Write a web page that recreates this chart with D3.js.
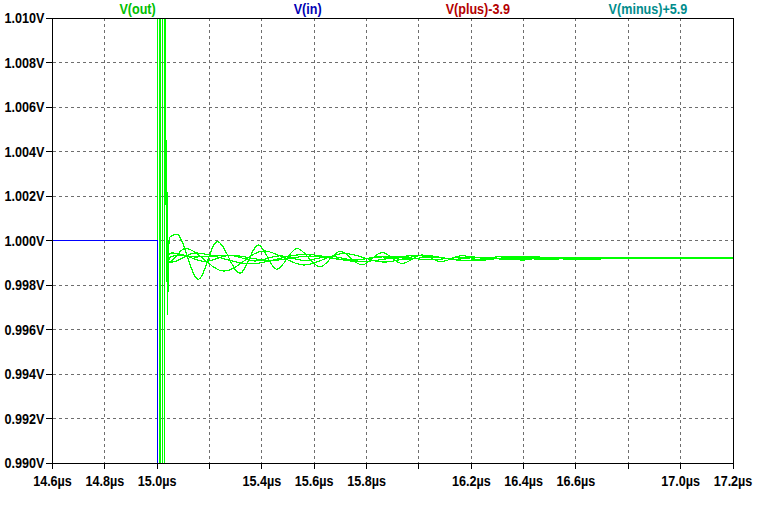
<!DOCTYPE html>
<html><head><meta charset="utf-8">
<script src="https://cdn.jsdelivr.net/npm/d3@7"></script>
<style>body{margin:0;background:#fff;overflow:hidden}</style>
</head><body><svg id="c" width="776" height="518"></svg>
<script>
// ---------- data ----------
const xTicks = [14.6,14.8,15.0,15.2,15.4,15.6,15.8,16.0,16.2,16.4,16.6,16.8,17.0,17.2];
const xTickLabels = ["14.6µs","14.8µs","15.0µs","","15.4µs","15.6µs","15.8µs","","16.2µs","16.4µs","16.6µs","","17.0µs","17.2µs"];
const yTicks = [0.990,0.992,0.994,0.996,0.998,1.000,1.002,1.004,1.006,1.008,1.010];
const yTickLabels = ["0.990V","0.992V","0.994V","0.996V","0.998V","1.000V","1.002V","1.004V","1.006V","1.008V","1.010V"];
const legendNames = ["V(out)","V(in)","V(plus)-3.9","V(minus)+5.9"];

// V(in): step at 15.0 µs (drops far below the visible range)
const vinT = [14.6, 15.0, 15.0, 17.2];
const vinV = [1.000, 1.000, 0.0, 0.0];

// V(out) initial overshoot (shared by all stepped runs)
const spikeT = [14.6, 15.000, 15.001, 15.001, 15.007, 15.007, 15.0145, 15.0145, 15.022, 15.022, 15.028, 15.028, 15.030, 15.0315, 15.0322, 15.0330, 15.0337, 15.0345, 15.0352, 15.0360];
const spikeV = [1.0000, 1.0000, 1.0000, 1.0125, 1.0125, 0.9875, 0.9875, 1.0125, 1.0125, 0.9875, 0.9875, 1.0125, 1.0125, 1.0057, 1.0030, 1.0052, 1.0016, 1.0045, 1.0015, 1.0035];

// V(out) settling, one series per stepped run
const runA_T = [15.0360, 15.0386, 15.0451, 15.0489, 15.0745, 15.1571, 15.2297, 15.3164, 15.3863, 15.4566, 15.5342, 15.6221, 15.6985, 15.7825, 15.8589, 15.9353, 16.0118, 16.0844, 16.1646, 16.2410, 16.3175, 16.3939, 16.4800, 16.6000, 16.7000, 17.2];
const runA_V = [1.0035, 0.99665, 0.99990, 1.00016, 1.00028, 0.99826, 0.99995, 0.99853, 0.99980, 0.99871, 0.99964, 0.99882, 0.99951, 0.99890, 0.99946, 0.99897, 0.99935, 0.99905, 0.99932, 0.99910, 0.99930, 0.99912, 0.99924, 0.99919, 0.99922, 0.99921];

const runB_T = [15.0360, 15.0375, 15.0430, 15.0566, 15.1062, 15.2552, 15.4081, 15.5609, 15.7137, 15.8665, 16.0194, 16.1722, 16.3250, 16.4778, 16.6307, 17.2];
const runB_V = [1.0035, 0.99728, 0.99900, 0.99910, 0.99964, 0.99863, 0.99953, 0.99890, 0.99942, 0.99903, 0.99933, 0.99910, 0.99928, 0.99915, 0.99922, 0.99921];

const runC_T = [15.0360, 15.0400, 15.0480, 15.0871, 15.1827, 15.2782, 15.3737, 15.4692, 15.5647, 15.6603, 15.7558, 15.8513, 15.9468, 16.0423, 16.1379, 16.2334, 16.3289, 16.4500, 16.6000, 17.2];
const runC_V = [1.0035, 0.99890, 0.99925, 0.99935, 0.99906, 0.99933, 0.99908, 0.99931, 0.99910, 0.99929, 0.99912, 0.99927, 0.99914, 0.99926, 0.99916, 0.99925, 0.99917, 0.99923, 0.99919, 0.99922];

const runD_T = [15.0360, 15.0380, 15.0430, 15.0566, 15.1445, 15.2782, 15.4310, 15.5838, 15.7367, 15.8895, 16.0423, 16.1952, 16.3480, 16.5500, 16.8000, 17.2];
const runD_V = [1.0035, 0.99800, 0.99935, 0.99944, 0.99926, 0.99934, 0.99910, 0.99930, 0.99912, 0.99928, 0.99914, 0.99926, 0.99915, 0.99923, 0.99918, 0.99921];

const runE_T = [15.0360, 15.0395, 15.0450, 15.0566, 15.1445, 15.3546, 15.5647, 15.7749, 15.9850, 16.1952, 16.4053, 16.6155, 16.8256, 17.0357, 17.2];
const runE_V = [1.0035, 0.99950, 0.99905, 0.99903, 0.99944, 0.99895, 0.99938, 0.99905, 0.99932, 0.99910, 0.99928, 0.99914, 0.99924, 0.99918, 0.99921];

// ---------- drawing ----------
const svg = d3.select("#c");
const L = 52.5, R = 733, T = 18, B = 463;
const x = d3.scaleLinear().domain([14.6, 17.2]).range([L, R]);
const y = d3.scaleLinear().domain([0.990, 1.010]).range([B, T]);
const FONT = "'Liberation Sans', Arial, sans-serif";
const SX = 0.9;

svg.append("rect").attr("width", 776).attr("height", 518).attr("fill", "#fff");

// grid
const grid = svg.append("g").attr("stroke", "#6e6e6e").attr("stroke-dasharray", "3,3")
  .attr("shape-rendering", "crispEdges");
grid.selectAll(".gx").data(xTicks.slice(1, -1)).enter().append("line")
  .attr("x1", d => x(d)).attr("x2", d => x(d))
  .attr("y1", T).attr("y2", B);
grid.selectAll(".gy").data(yTicks.slice(1, -1)).enter().append("line")
  .attr("y1", d => y(d)).attr("y2", d => y(d))
  .attr("x1", L).attr("x2", R);

// clip
svg.append("clipPath").attr("id", "clip").append("rect")
  .attr("x", L).attr("y", T).attr("width", R - L).attr("height", B - T);
const plot = svg.append("g").attr("clip-path", "url(#clip)");

const lineLin = d3.line().x(d => x(d[0])).y(d => y(d[1]));
const lineSm = d3.line().x(d => x(d[0])).y(d => y(d[1])).curve(d3.curveMonotoneX);
const zip = (a, b) => a.map((v, i) => [v, b[i]]);

const green = "#00ff00";
const runs = [[runA_T, runA_V], [runB_T, runB_V], [runC_T, runC_V], [runD_T, runD_V], [runE_T, runE_V]];
runs.forEach(r => {
  plot.append("path").attr("d", lineLin(zip(spikeT, spikeV)))
    .attr("fill", "none").attr("stroke", green).attr("stroke-width", 1).attr("shape-rendering", "crispEdges");
  plot.append("path").attr("d", lineSm(zip(r[0], r[1])))
    .attr("fill", "none").attr("stroke", green).attr("stroke-width", 1.2).attr("shape-rendering", "crispEdges");
});
plot.append("path").attr("d", lineLin(zip(vinT, vinV)))
  .attr("fill", "none").attr("stroke", "#0000ff").attr("stroke-width", 1).attr("shape-rendering", "crispEdges");

// frame
svg.append("rect").attr("x", L).attr("y", T).attr("width", R - L).attr("height", B - T)
  .attr("fill", "none").attr("stroke", "#000").attr("shape-rendering", "crispEdges");

function label(g, tx, ty, anchor, txt, fill) {
  g.append("text").attr("transform", `translate(${tx},${ty}) scale(${SX},1)`)
    .attr("text-anchor", anchor).attr("font-family", FONT).attr("font-weight", "bold")
    .attr("font-size", 14).attr("fill", fill || "#000").text(txt);
}

// y axis ticks + labels
const ya = svg.append("g");
ya.selectAll("line").data(yTicks).enter().append("line")
  .attr("x1", L - 7).attr("x2", L).attr("y1", d => y(d)).attr("y2", d => y(d))
  .attr("stroke", "#000").attr("shape-rendering", "crispEdges");
yTicks.forEach((d, i) => label(ya, L - 8, y(d) + 5, "end", yTickLabels[i]));

// x axis ticks + labels
const xa = svg.append("g");
xa.selectAll("line").data(xTicks).enter().append("line")
  .attr("y1", B).attr("y2", B + 6).attr("x1", d => x(d)).attr("x2", d => x(d))
  .attr("stroke", "#000").attr("shape-rendering", "crispEdges");
xTicks.forEach((d, i) => label(xa, x(d), B + 23, "middle", xTickLabels[i]));

// legend
const legColors = ["#00c000", "#0000b4", "#b40000", "#008c8c"];
const lg = svg.append("g");
legendNames.forEach((d, i) => label(lg, L + (R - L) / 8 + i * (R - L) / 4, 14, "middle", d, legColors[i]));
</script></body></html>
